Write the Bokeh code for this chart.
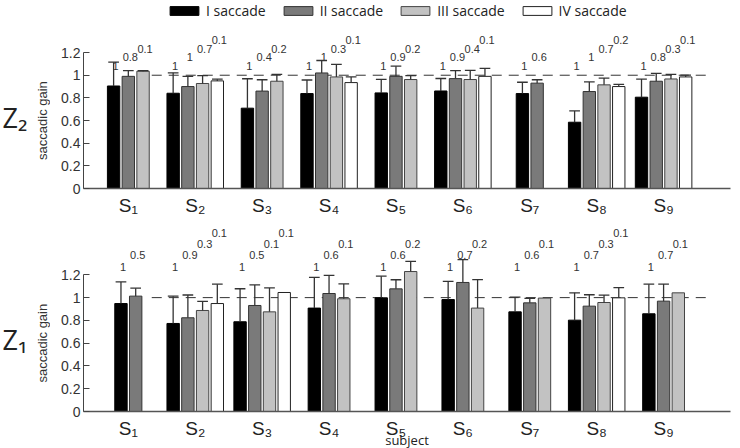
import math
from bokeh.plotting import figure
from bokeh.layouts import column, row
from bokeh.models import (FixedTicker, Legend, LegendItem,
                          CustomJSTickFormatter)
from bokeh.core.properties import value
from bokeh.embed import file_html
from bokeh.resources import INLINE

# ---- data -----------------------------------------------------------------
subjects = [1, 2, 3, 4, 5, 6, 7, 8, 9]
subject_labels = ["S\u2081", "S\u2082", "S\u2083", "S\u2084", "S\u2085",
                  "S\u2086", "S\u2087", "S\u2088", "S\u2089"]
saccades = ["I saccade", "II saccade", "III saccade", "IV saccade"]

# Z2 condition: mean saccadic gain per subject (None = no saccade of that order)
z2_I = [0.905, 0.841, 0.709, 0.838, 0.844, 0.861, 0.838, 0.585, 0.806]
z2_II = [0.99, 0.90, 0.86, 1.02, 0.99, 0.97, 0.93, 0.856, 0.947]
z2_III = [1.035, 0.927, 0.947, 0.985, 0.962, 0.962, None, 0.915, 0.967]
z2_IV = [None, 0.95, None, 0.935, None, 0.99, None, 0.90, 0.985]
# Z2 standard deviations
z2_I_sd = [0.21, 0.18, 0.26, 0.12, 0.12, 0.11, 0.10, 0.10, 0.16]
z2_II_sd = [0.05, 0.09, 0.10, 0.11, 0.09, 0.07, 0.03, 0.085, 0.07]
z2_III_sd = [0.005, 0.07, 0.06, 0.11, 0.035, 0.08, None, 0.06, 0.04]
z2_IV_sd = [None, 0.015, None, 0.05, None, 0.07, None, 0.02, 0.015]
# Z2 p-values printed above the bars
z2_I_p = ["1", "1", "1", "1", "1", "1", "1", "1", "1"]
z2_II_p = ["0.8", "1", "0.4", "1", "0.9", "0.9", "0.6", "1", "0.8"]
z2_III_p = ["0.1", "0.7", "0.2", "0.3", "0.2", "0.4", None, "0.7", "0.3"]
z2_IV_p = [None, "0.1", None, "0.1", None, "0.1", None, "0.2", "0.1"]

# Z1 condition
z1_I = [0.948, 0.773, 0.788, 0.908, 0.998, 0.983, 0.875, 0.802, 0.858]
z1_II = [1.013, 0.823, 0.931, 1.036, 1.077, 1.133, 0.954, 0.925, 0.969]
z1_III = [None, 0.887, 0.875, 0.99, 1.229, 0.908, 0.996, 0.957, 1.042]
z1_IV = [None, 0.948, 1.045, None, None, None, None, 0.998, None]
z1_I_sd = [0.19, 0.24, 0.29, 0.27, 0.19, 0.16, 0.13, 0.24, 0.26]
z1_II_sd = [0.07, 0.20, 0.18, 0.16, 0.08, 0.20, 0.04, 0.10, 0.15]
z1_III_sd = [None, 0.08, 0.21, 0.13, 0.09, 0.25, 0.0, 0.065, 0.0]
z1_IV_sd = [None, 0.17, 0.0, None, None, None, None, 0.09, None]
z1_I_p = ["1", "1", "1", "1", "1", "1", "1", "1", "1"]
z1_II_p = ["0.5", "0.9", "0.5", "0.6", "0.6", "0.7", "0.6", "0.7", "0.7"]
z1_III_p = [None, "0.3", "0.1", "0.1", "0.2", "0.2", "0.1", "0.3", "0.1"]
z1_IV_p = [None, "0.1", "0.1", None, None, None, None, "0.1", None]

y_ticks = [0, 0.2, 0.4, 0.6, 0.8, 1, 1.2]

# ---- styling ----------------------------------------------------------------
FILLS = ["#000000", "#7a7a7a", "#c2c2c2", "#ffffff"]
EDGES = ["#000000", "#333333", "#444444", "#222222"]
PITCH = 0.22       # distance between neighbouring bars of one subject
BAR_W = 0.185
CAP_W = 0.16
TEXT_COL = "#333333"
NUM_FONT = "Liberation Sans"
LBL_FONT = "Open Sans"
Y_RANGE = (0, 1.642)
SIDE_W = 50        # strip on the left holding condition name and axis title


def make_side(zname, top_border, bottom_border, frame_h):
    """Narrow strip left of a panel: condition name and rotated axis title."""
    s = figure(frame_width=SIDE_W, frame_height=frame_h,
               x_range=(0, SIDE_W), y_range=Y_RANGE,
               x_axis_location=None, y_axis_location=None,
               output_backend="svg", toolbar_location=None,
               min_border_left=0, min_border_right=0,
               min_border_top=top_border, min_border_bottom=bottom_border,
               outline_line_color=None)
    s.grid.visible = False
    s.text(x=[2], y=[0.63], text=[zname], text_align="left",
           text_baseline="middle", text_font=value(LBL_FONT),
           text_font_size="27px", text_color="#222222")
    s.text(x=[42], y=[0.6], text=["saccadic gain"], angle=math.pi / 2,
           text_align="center", text_baseline="middle",
           text_font=value(NUM_FONT), text_font_size="13px",
           text_color="#333333")
    return s


def make_panel(means, sds, pvals, label_base, label_step,
               top_border, bottom_border, frame_h, legend=False, xlabel=None):
    p = figure(frame_width=647, frame_height=frame_h,
               x_range=(0.33, 10.0), y_range=Y_RANGE,
               output_backend="svg", toolbar_location=None,
               min_border_left=83 - SIDE_W, min_border_right=10,
               min_border_top=top_border, min_border_bottom=bottom_border,
               outline_line_color=None)
    p.grid.visible = False

    # reference line at unit gain
    p.segment(x0=[subjects[0] + 0.35], y0=[1], x1=[subjects[-1] + 0.65], y1=[1],
              line_color="#333333", line_width=1, line_dash="10 7")

    counts = [sum(m[i] is not None for m in means) for i in range(len(subjects))]
    items = []
    for k, (mean, sd, pv) in enumerate(zip(means, sds, pvals)):
        idx = [i for i in range(len(subjects)) if mean[i] is not None]
        xs = [subjects[i] + (k - (counts[i] - 1) / 2) * PITCH for i in idx]
        tops = [mean[i] for i in idx]
        r = p.vbar(x=xs, top=tops, width=BAR_W, fill_color=FILLS[k],
                   line_color=EDGES[k], line_width=1)
        items.append(LegendItem(label=saccades[k], renderers=[r]))

        ex, ey0, ey1 = [], [], []
        for x, i in zip(xs, idx):
            if sd[i]:
                ex.append(x)
                ey0.append(mean[i])
                ey1.append(mean[i] + sd[i])
        p.segment(x0=ex, y0=ey0, x1=ex, y1=ey1, line_color="#333333", line_width=1.3)
        p.segment(x0=[x - CAP_W / 2 for x in ex], y0=ey1,
                  x1=[x + CAP_W / 2 for x in ex], y1=ey1,
                  line_color="#333333", line_width=1.3)

        p.text(x=[x + 0.03 for x in xs], y=[label_base + k * label_step] * len(xs),
               text=[pv[i] for i in idx], text_align="center",
               text_baseline="middle", text_font=value(NUM_FONT),
               text_font_size="11px", text_color=TEXT_COL)

    if legend:
        lg = Legend(items=items, location=(83, 168), orientation="horizontal",
                    glyph_width=36, glyph_height=11, label_standoff=4, spacing=14,
                    padding=2, margin=0, border_line_color=None,
                    background_fill_alpha=0, label_text_font=LBL_FONT,
                    label_text_font_size="14px", label_text_color="#222222")
        p.add_layout(lg)

    # x axis: subjects
    xa = p.xaxis[0]
    xa.ticker = FixedTicker(ticks=subjects)
    xa.major_label_overrides = {s: lab for s, lab in zip(subjects, subject_labels)}
    xa.major_tick_in = 0
    xa.major_tick_out = 0
    xa.minor_tick_line_color = None
    xa.axis_line_color = "#555555"
    xa.axis_line_width = 1.5
    xa.major_label_text_font = "Liberation Sans, DejaVu Sans"
    xa.major_label_text_font_size = "19px"
    xa.major_label_text_color = "#222222"
    xa.major_label_standoff = 6
    if xlabel:
        xa.axis_label = xlabel
        xa.axis_label_text_font = LBL_FONT
        xa.axis_label_text_font_size = "13px"
        xa.axis_label_text_font_style = "normal"
        xa.axis_label_text_color = "#222222"
        xa.axis_label_standoff = -11

    # y axis: gain
    ya = p.yaxis[0]
    ya.bounds = (0, 1.2)
    ya.ticker = FixedTicker(ticks=y_ticks)
    ya.formatter = CustomJSTickFormatter(code="return String(+tick.toFixed(1));")
    ya.major_tick_in = 6
    ya.major_tick_out = 0
    ya.minor_tick_line_color = None
    ya.axis_line_color = "#444444"
    ya.major_tick_line_color = "#444444"
    ya.major_label_text_font = NUM_FONT
    ya.major_label_text_font_size = "14px"
    ya.major_label_text_color = "#333333"
    ya.major_label_standoff = 3
    return p


top = make_panel([z2_I, z2_II, z2_III, z2_IV],
                 [z2_I_sd, z2_II_sd, z2_III_sd, z2_IV_sd],
                 [z2_I_p, z2_II_p, z2_III_p, z2_IV_p],
                 1.08, 0.077, 2, 34, 186, legend=True)
bottom = make_panel([z1_I, z1_II, z1_III, z1_IV],
                    [z1_I_sd, z1_II_sd, z1_III_sd, z1_IV_sd],
                    [z1_I_p, z1_II_p, z1_III_p, z1_IV_p],
                    1.27, 0.10, 2, 10, 187, xlabel="subject")

side_top = make_side("Z\u2082", 2, 34, 186)
side_bottom = make_side("Z\u2081", 2, 10, 187)

layout = column(row(side_top, top, spacing=0), row(side_bottom, bottom, spacing=0),
                spacing=0)
open("out.html", "w").write(file_html(layout, INLINE))
